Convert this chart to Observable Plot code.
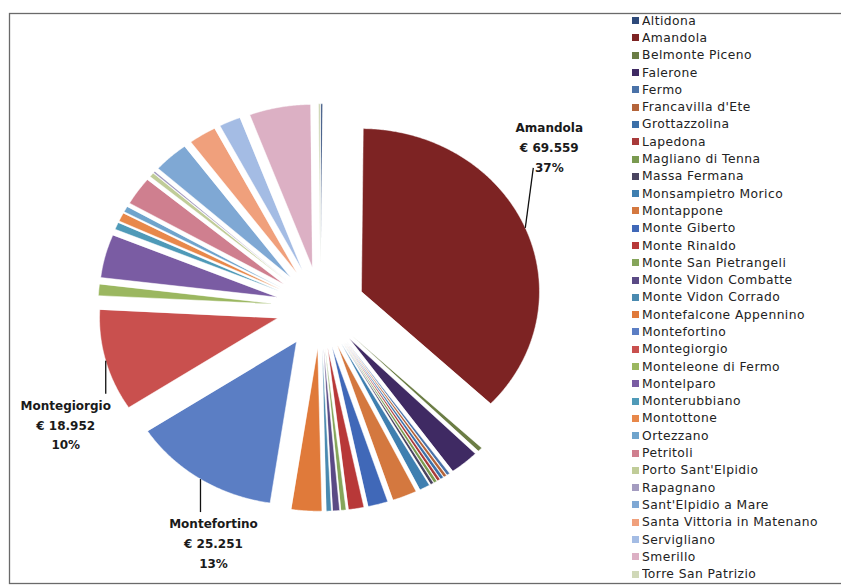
<!DOCTYPE html>
<html>
<head>
<meta charset="utf-8">
<script src="https://cdn.jsdelivr.net/npm/d3@7"></script>
<script src="https://cdn.jsdelivr.net/npm/@observablehq/plot@0.6"></script>
<style>
  body { margin: 0; background: #fff; }
  #wrap { position: relative; width: 841px; height: 585px; overflow: hidden; background: #fff; }
  #chart { position: absolute; left: 0; top: 0; width: 861px; }
  #chart svg { max-width: none !important; width: 861px !important; height: 585px !important; }
  #legend { position: absolute; left: 632px; top: 12px; }
  #legend > div { font-family: "DejaVu Sans", sans-serif !important; font-size: 12.3px !important; color: #222; margin: 0 !important; letter-spacing: 0.45px; }
  #legend > div > div { display: flex; align-items: center; height: 17.3px; padding: 0 !important; }
  #legend svg { margin-right: 3px !important; }
</style>
</head>
<body>
<div id="wrap">
  <div id="chart"></div>
  <div id="legend"></div>
</div>
<script>
// ---- data ----
const comuni = ["Altidona","Amandola","Belmonte Piceno","Falerone","Fermo","Francavilla d'Ete","Grottazzolina","Lapedona","Magliano di Tenna","Massa Fermana","Monsampietro Morico","Montappone","Monte Giberto","Monte Rinaldo","Monte San Pietrangeli","Monte Vidon Combatte","Monte Vidon Corrado","Montefalcone Appennino","Montefortino","Montegiorgio","Monteleone di Fermo","Montelparo","Monterubbiano","Montottone","Ortezzano","Petritoli","Porto Sant'Elpidio","Rapagnano","Sant'Elpidio a Mare","Santa Vittoria in Matenano","Servigliano","Smerillo","Torre San Patrizio"];
const importi = [300,69559,790,4970,520,510,540,500,530,510,1780,4190,3400,2620,840,1150,840,5180,25251,18952,2090,8060,1310,1570,1050,5240,790,310,6020,4710,3660,10470,310];
const colori = ["#2e4a7a","#7d2323","#6b7d45","#3f2a63","#4a72a8","#b4643a","#3b6fa8","#a83a3a","#7a9a50","#4a4460","#3f7fb0","#d4783f","#4068b8","#b83838","#85a55a","#5a4a85","#4a8ab0","#e07a3a","#5b7ec4","#c9504e","#9bb760","#7a5ca3","#4f9ab8","#e8884a","#6fa4cc","#cf7f8f","#c0cc98","#a49cc0","#7fa8d4","#f0a07c","#a4bce4","#dcb0c4","#d0d8b8"];
const etichettati = ["Amandola","Montefortino","Montegiorgio"];

// ---- layout (not data) ----
const W = 861, H = 585;
const CX = 320, CY = 307, RX = 178, RY = 163;
const EXPLODE = 0.25;
const labelLayout = {
  "Amandola":     {lx: 8, ly: 60, anchor: "bottom", dx: 16, dy: 4},
  "Montefortino": {lx: 0, ly: -33, anchor: "top", dx: 13, dy: 2},
  "Montegiorgio": {lx: 0, ly: -33, anchor: "top", dx: -40, dy: 2}
};

const it = d3.formatLocale({decimal: ",", thousands: ".", grouping: [3], currency: ["€ ", ""]});
const fmt = it.format(",d");

const rows = comuni.map((c, i) => ({name: c, value: importi[i]}));
const total = d3.sum(importi);
const arcs = d3.pie().sort(null).value(d => d.value)(rows);

const pts = [];
const labels = [];
for (const a of arcs) {
  const mid = (a.startAngle + a.endAngle) / 2;
  const ox = EXPLODE * Math.sin(mid), oy = EXPLODE * Math.cos(mid);
  const name = a.data.name;
  pts.push({name, x: ox, y: oy});
  const n = Math.max(2, Math.ceil((a.endAngle - a.startAngle) / 0.008));
  for (let k = 0; k <= n; k++) {
    const t = a.startAngle + (a.endAngle - a.startAngle) * k / n;
    pts.push({name, x: ox + Math.sin(t), y: oy + Math.cos(t)});
  }
  if (etichettati.includes(name)) {
    const L = labelLayout[name];
    const ax = ox + Math.sin(mid), ay = oy + Math.cos(mid);
    labels.push({
      name, anchor: L.anchor, dx: L.dx, dy: L.dy,
      x1: ax, y1: ay, x2: ax + L.lx / RX, y2: ay + L.ly / RY,
      text: `${name}\n€ ${fmt(a.data.value)}\n${Math.round(a.data.value / total * 100)}%`
    });
  }
}

const colorScale = {domain: comuni, range: colori};

const chart = Plot.plot({
  width: W, height: H,
  marginTop: 13, marginLeft: 9, marginRight: 0, marginBottom: 2,
  x: {domain: [-1, 1], range: [CX - RX, CX + RX], axis: null},
  y: {domain: [-1, 1], range: [CY + RY, CY - RY], axis: null},
  color: colorScale,
  style: {background: "#fff"},
  marks: [
    Plot.frame({stroke: "#6a6a6a", strokeWidth: 1.3}),
    Plot.line(pts, {x: "x", y: "y", z: "name", fill: "name", stroke: "#fff", strokeWidth: 0.5, curve: "linear-closed"}),
    Plot.link(labels, {x1: "x1", y1: "y1", x2: "x2", y2: "y2", stroke: "#111", strokeWidth: 1.3}),
    ...labels.map(l => Plot.text([l], {
      x: "x2", y: "y2", text: "text",
      lineAnchor: l.anchor, textAnchor: "middle",
      dx: l.dx, dy: l.dy,
      fontFamily: "DejaVu Sans", fontWeight: "bold", fontSize: 12,
      lineHeight: 1.65, fill: "#1a1a1a"
    }))
  ]
});
document.getElementById("chart").append(chart);

const legend = Plot.legend({color: colorScale, legend: "swatches", columns: 1, swatchSize: 7});
document.getElementById("legend").append(legend);
</script>
</body>
</html>
